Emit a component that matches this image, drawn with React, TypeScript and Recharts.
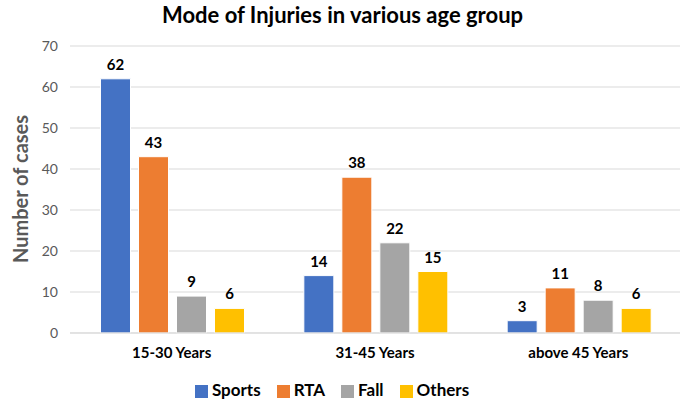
import React from "react";
import {
  BarChart,
  Bar,
  XAxis,
  YAxis,
  CartesianGrid,
  Legend,
  LabelList,
} from "recharts";

const AGE_GROUPS = ["15-30 Years", "31-45 Years", "above 45 Years"];
const SPORTS = [62, 14, 3];
const RTA = [43, 38, 11];
const FALL = [9, 22, 8];
const OTHERS = [6, 15, 6];
const Y_TICKS = [0, 10, 20, 30, 40, 50, 60, 70];

const SERIES = [
  { key: "Sports", color: "#4472C4" },
  { key: "RTA", color: "#ED7D31" },
  { key: "Fall", color: "#A5A5A5" },
  { key: "Others", color: "#FFC000" },
];

const data = AGE_GROUPS.map((group, i) => ({
  group,
  Sports: SPORTS[i],
  RTA: RTA[i],
  Fall: FALL[i],
  Others: OTHERS[i],
}));

const FONT = "Lato, 'Open Sans', sans-serif";

const YLabel = () => (
  <text
    x={20}
    y={189}
    transform="rotate(-90 20 189)"
    textAnchor="middle"
    dominantBaseline="central"
    fill="#595959"
    fontWeight="bold"
    fontSize={20}
    fontFamily={FONT}
  >
    Number of cases
  </text>
);

export default function App() {
  return (
    <div
      style={{
        position: "absolute",
        left: 0,
        top: 0,
        width: 685,
        height: 404,
        background: "#fff",
        fontFamily: FONT,
      }}
    >
      <div
        style={{
          position: "absolute",
          top: 1,
          left: 0,
          width: 685,
          textAlign: "center",
          fontSize: 22,
          fontWeight: "bold",
          color: "#000",
        }}
      >
        Mode of Injuries in various age group
      </div>
      <BarChart
        width={685}
        height={404}
        data={data}
        margin={{ top: 46, right: 5, left: 0, bottom: 5 }}
        barCategoryGap="15%"
        barGap={8}
      >
        <CartesianGrid stroke="#d9d9d9" vertical={false} />
        <XAxis
          dataKey="group"
          height={30}
          axisLine={{ stroke: "#d9d9d9" }}
          tickLine={false}
          tick={{ fill: "#000", fontSize: 15, fontWeight: "bold", fontFamily: FONT }}
          dy={6}
        />
        <YAxis
          width={70}
          domain={[0, 70]}
          ticks={Y_TICKS}
          axisLine={false}
          tickLine={false}
          tick={{ fill: "#595959", fontSize: 14, fontFamily: FONT }}
          dx={-4}
        />
        <Legend
          verticalAlign="bottom"
          height={36}
          iconType="square"
          iconSize={13}
          itemSorter={(item: any) => SERIES.findIndex((s) => s.key === item.value)}
          wrapperStyle={{ top: 379 }}
          formatter={(value) => (
            <span
              style={{
                color: "#000",
                fontSize: 17,
                fontWeight: "bold",
                fontFamily: FONT,
                marginRight: 6,
              }}
            >
              {value}
            </span>
          )}
        />
        {SERIES.map((s) => (
          <Bar
            key={s.key}
            dataKey={s.key}
            fill={s.color}
            stroke="#ffffff"
            strokeWidth={1}
            isAnimationActive={false}
          >
            <LabelList
              dataKey={s.key}
              position="top"
              offset={9}
              fill="#000"
              fontSize={15}
              fontWeight="bold"
              fontFamily={FONT}
            />
          </Bar>
        ))}
        <YLabel />
      </BarChart>
    </div>
  );
}
